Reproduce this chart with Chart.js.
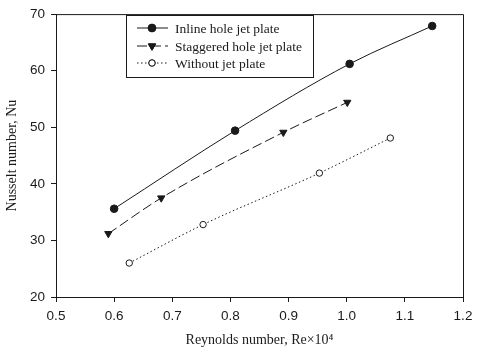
<!doctype html>
<html lang="en">
<head>
<meta charset="utf-8">
<title>Nusselt number vs Reynolds number</title>
<script src="https://cdn.jsdelivr.net/npm/chart.js@4/dist/chart.umd.min.js"></script>
<style>
    html, body { margin: 0; padding: 0; background: #fff; }
    #wrap { width: 480px; height: 354px; }
</style>
</head>
<body>
<div id="wrap"><canvas id="chart1"></canvas></div>
<script>
    // series data
    const seriesNames = ['Inline hole jet plate', 'Staggered hole jet plate', 'Without jet plate'];
    const reInline = [0.600, 0.808, 1.005, 1.147];
    const nuInline = [35.6, 49.4, 61.2, 67.9];
    const reStaggered = [0.590, 0.681, 0.891, 1.001];
    const nuStaggered = [31.2, 37.5, 49.1, 54.4];
    const reWithout = [0.626, 0.753, 0.953, 1.075];
    const nuWithout = [26.0, 32.8, 41.9, 48.1];
    const xTicks = [0.5, 0.6, 0.7, 0.8, 0.9, 1.0, 1.1, 1.2];
    const yTicks = [20, 30, 40, 50, 60, 70];

    const ink = '#1a1a1a';
    const serif = '"Liberation Serif", "Times New Roman", serif';
    const pts = (xs, ys) => xs.map((x, i) => ({x: x, y: ys[i]}));

    const styles = [
        {dash: [], pointStyle: 'circle', radius: 3.8, fill: ink, rotation: 0},
        {dash: [10, 4], pointStyle: 'triangle', radius: 4.2, fill: ink, rotation: 180},
        {dash: [1.5, 2.5], pointStyle: 'circle', radius: 3.2, fill: '#fff', rotation: 0}
    ];

    // frame on top/right side of plot
    const frame = {
        id: 'frame',
        afterDraw(chart) {
            const a = chart.chartArea, ctx = chart.ctx;
            ctx.save();
            ctx.strokeStyle = ink;
            ctx.lineWidth = 1;
            ctx.beginPath();
            ctx.moveTo(a.left, a.top + 0.5);
            ctx.lineTo(a.right + 0.5, a.top + 0.5);
            ctx.lineTo(a.right + 0.5, a.bottom);
            ctx.stroke();
            ctx.restore();
        }
    };

    // boxed legend inside the plot
    const boxLegend = {
        id: 'boxLegend',
        afterDraw(chart) {
            const ctx = chart.ctx;
            const bx = 126.5, by = 15.5, bw = 187, bh = 62;
            ctx.save();
            ctx.fillStyle = '#fff';
            ctx.fillRect(bx, by, bw, bh);
            ctx.strokeStyle = ink;
            ctx.lineWidth = 1;
            ctx.strokeRect(bx, by, bw, bh);
            const rows = [28, 46, 63];
            seriesNames.forEach((name, i) => {
                const s = styles[i], y = rows[i];
                ctx.setLineDash(s.dash);
                ctx.beginPath();
                ctx.moveTo(137, y);
                ctx.lineTo(168, y);
                ctx.stroke();
                ctx.setLineDash([]);
                Chart.helpers.drawPoint(ctx, {
                    pointStyle: s.pointStyle, radius: s.radius, rotation: s.rotation,
                    borderWidth: 1
                }, 152, y);
                ctx.fillStyle = s.fill;
                ctx.strokeStyle = ink;
                ctx.fill();
                ctx.stroke();
                ctx.fillStyle = ink;
                ctx.font = '13.5px ' + serif;
                ctx.textBaseline = 'middle';
                ctx.fillText(name, 175, y + 1);
            });
            ctx.restore();
        }
    };

    const data = [pts(reInline, nuInline), pts(reStaggered, nuStaggered), pts(reWithout, nuWithout)];

    new Chart(document.getElementById('chart1').getContext('2d'), {
        type: 'line',
        data: {
            datasets: seriesNames.map((name, i) => ({
                label: name,
                data: data[i],
                borderColor: ink,
                borderWidth: 1,
                borderDash: styles[i].dash,
                backgroundColor: styles[i].fill,
                pointBackgroundColor: styles[i].fill,
                pointBorderColor: ink,
                pointBorderWidth: 1,
                pointStyle: styles[i].pointStyle,
                pointRotation: styles[i].rotation,
                pointRadius: styles[i].radius,
                cubicInterpolationMode: 'monotone',
                fill: false
            }))
        },
        options: {
            responsive: true,
            maintainAspectRatio: false,
            animation: false,
            events: [],
            layout: {padding: {top: 12, right: 17, left: 4, bottom: 0}},
            plugins: {
                legend: {display: false},
                tooltip: {enabled: false}
            },
            scales: {
                x: {
                    type: 'linear',
                    min: 0.5,
                    max: 1.2,
                    afterBuildTicks: s => { s.ticks = xTicks.map(v => ({value: v})); },
                    afterFit: s => { s.height = 57; },
                    grid: {drawOnChartArea: false, tickLength: 5, color: ink, tickColor: ink},
                    border: {color: ink, width: 1},
                    ticks: {
                        color: ink,
                        padding: 6,
                        font: {family: '"Liberation Sans", Arial, sans-serif', size: 13.5},
                        callback: v => v.toFixed(1)
                    },
                    title: {
                        display: true,
                        text: 'Reynolds number, Re\u00d710\u2074',
                        color: ink,
                        padding: {top: 8, bottom: 5},
                        font: {family: serif, size: 14}
                    }
                },
                y: {
                    min: 20,
                    max: 70,
                    afterBuildTicks: s => { s.ticks = yTicks.map(v => ({value: v})); },
                    afterFit: s => { s.width = 52; },
                    grid: {drawOnChartArea: false, tickLength: 5, color: ink, tickColor: ink},
                    border: {color: ink, width: 1},
                    ticks: {
                        color: ink,
                        padding: 6,
                        font: {family: '"Liberation Sans", Arial, sans-serif', size: 13.5}
                    },
                    title: {
                        display: true,
                        text: 'Nusselt number, Nu',
                        color: ink,
                        padding: {top: 0, bottom: 0},
                        font: {family: serif, size: 14}
                    }
                }
            }
        },
        plugins: [frame, boxLegend]
    });
</script>
</body>
</html>
